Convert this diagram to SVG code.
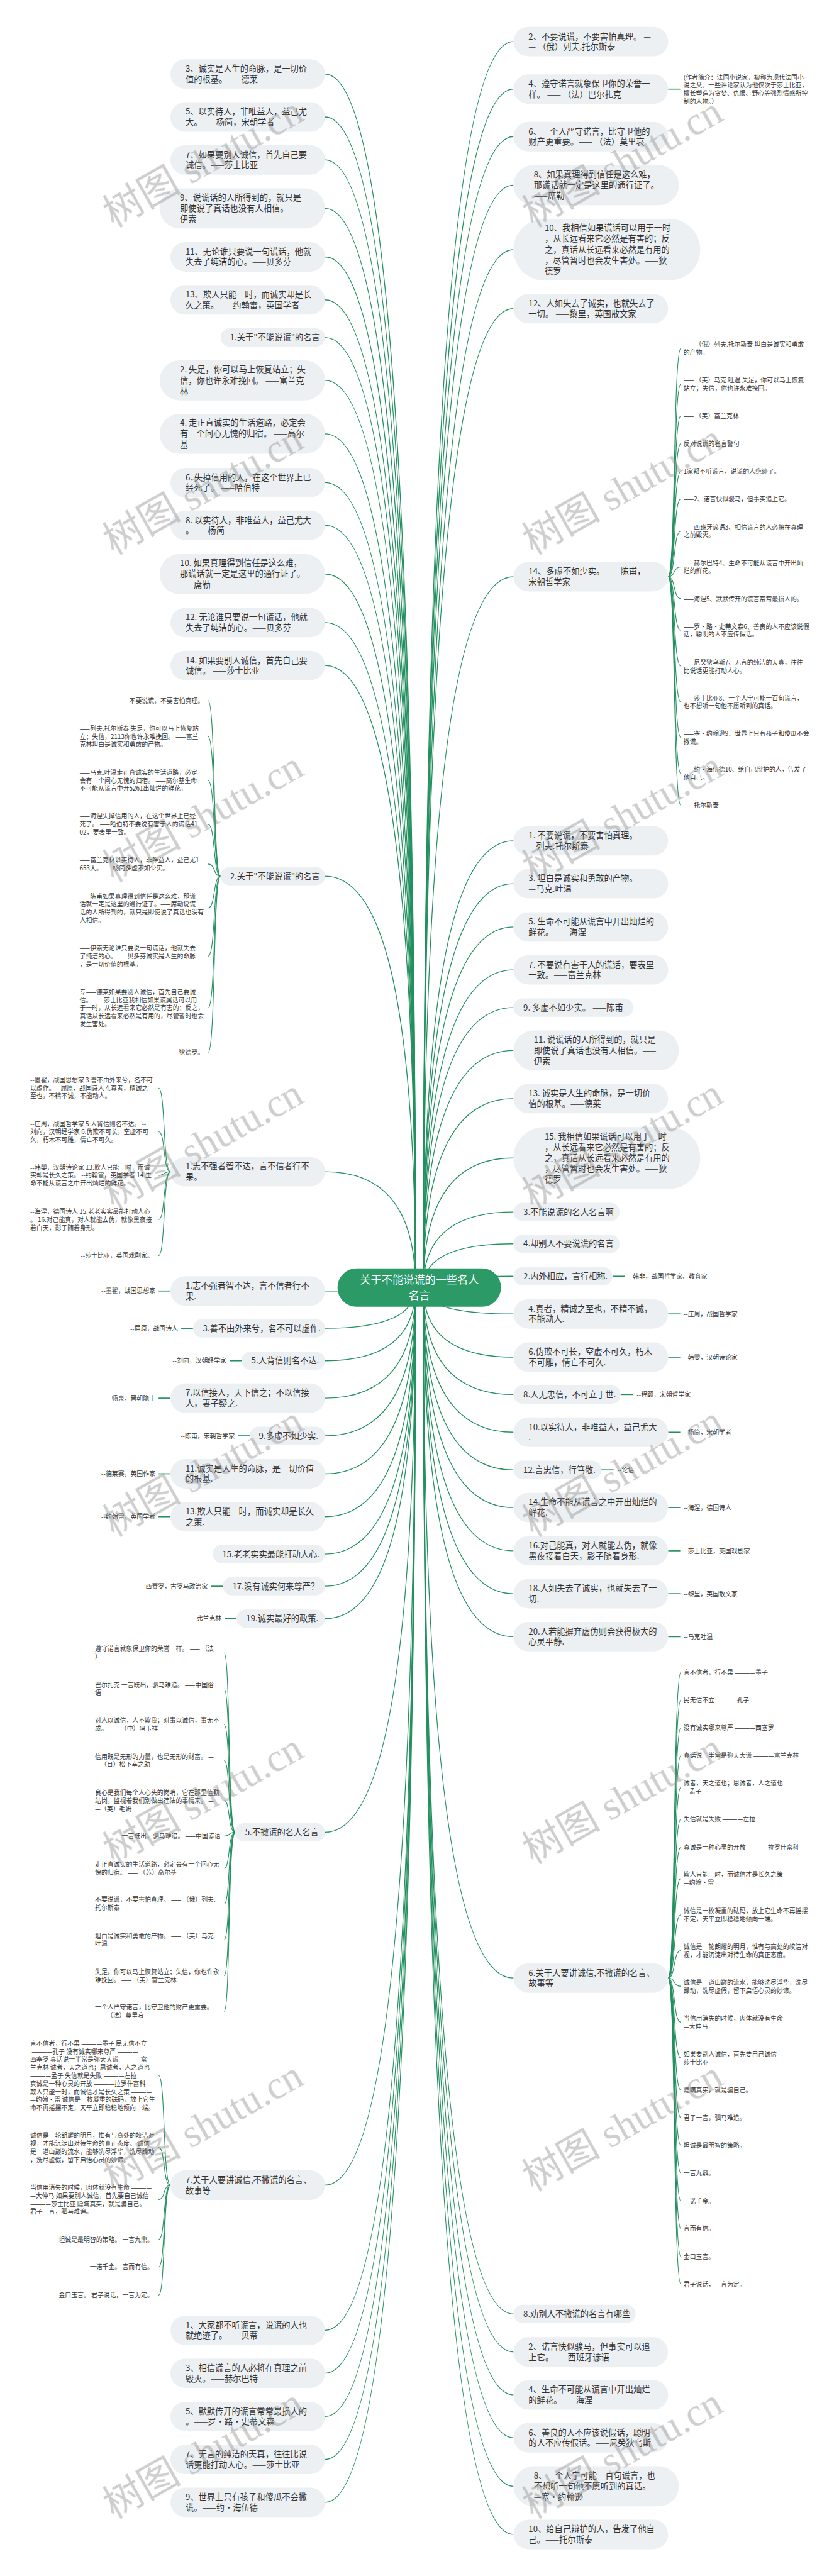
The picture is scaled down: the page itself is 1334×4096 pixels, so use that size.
<svg xmlns="http://www.w3.org/2000/svg" width="1334" height="4096" viewBox="0 0 1334 4096">
<defs>
<style>
.nb{fill:#edf0f3}
.nt{font-family:'Noto Sans CJK SC','Noto Sans',sans-serif;font-size:25.5px;fill:#333}
.lt{font-family:'Noto Sans CJK SC','Noto Sans',sans-serif;font-size:19px;fill:#333}
.le{text-anchor:end}
.cb{fill:#2b9a66}
.ct{font-family:'Noto Sans CJK SC','Noto Sans',sans-serif;font-size:33px;fill:#fff;text-anchor:middle}
.wm{font-family:'Liberation Serif','Noto Sans CJK SC',serif;font-size:120px;fill:#8a8a8a;opacity:0.42}
#connectors path{fill:none;stroke:#23905f;stroke-width:2.6}
#connectors .lf{stroke-width:2.2}
#connectors .st{stroke-width:3.2}
</style>
</defs>
<rect width="1334" height="4096" fill="#fff"/>
<g transform="scale(0.521)">
<g id="connectors">
<!-- left main -->
<path d="M1268,3929 Q1268,226 992,226"/>
<path d="M1268,3929 Q1268,357 992,357"/>
<path d="M1268,3929 Q1268,488 992,488"/>
<path d="M1268,3929 Q1268,636 992,636"/>
<path d="M1268,3929 Q1268,784 992,784"/>
<path d="M1268,3929 Q1268,915 992,915"/>
<path d="M1268,3929 Q1268,1030 992,1030"/>
<path d="M1268,3929 Q1268,1161 992,1161"/>
<path d="M1268,3929 Q1268,1324 992,1324"/>
<path d="M1268,3929 Q1268,1473 992,1473"/>
<path d="M1268,3929 Q1268,1603 992,1603"/>
<path d="M1268,3929 Q1268,1752 992,1752"/>
<path d="M1268,3929 Q1268,1900 992,1900"/>
<path d="M1268,3929 Q1268,2031 992,2031"/>
<path d="M1268,3929 Q1268,2674 992,2674"/>
<path d="M1268,3929 Q1268,3576 992,3576"/>
<path d="M1268,3929 Q1268,3940 992,3940"/>
<path d="M1268,3929 Q1268,4054 992,4054"/>
<path d="M1268,3929 Q1268,4153 992,4153"/>
<path d="M1268,3929 Q1268,4267 992,4267"/>
<path d="M1268,3929 Q1268,4382 992,4382"/>
<path d="M1268,3929 Q1268,4498 992,4498"/>
<path d="M1268,3929 Q1268,4629 992,4629"/>
<path d="M1268,3929 Q1268,4743 992,4743"/>
<path d="M1268,3929 Q1268,4841 992,4841"/>
<path d="M1268,3929 Q1268,4940 992,4940"/>
<path d="M1268,3929 Q1268,5592 992,5592"/>
<path d="M1268,3929 Q1268,6669 992,6669"/>
<path d="M1268,3929 Q1268,7112 992,7112"/>
<path d="M1268,3929 Q1268,7243 992,7243"/>
<path d="M1268,3929 Q1268,7375 992,7375"/>
<path d="M1268,3929 Q1268,7506 992,7506"/>
<path d="M1268,3929 Q1268,7637 992,7637"/>
<!-- right main -->
<path d="M1292,3929 Q1292,127 1567,127"/>
<path d="M1292,3929 Q1292,272 1567,272"/>
<path d="M1292,3929 Q1292,417 1567,417"/>
<path d="M1292,3929 Q1292,565 1567,565"/>
<path d="M1292,3929 Q1292,762 1567,762"/>
<path d="M1292,3929 Q1292,942 1567,942"/>
<path d="M1292,3929 Q1292,1760 1567,1760"/>
<path d="M1292,3929 Q1292,2566 1567,2566"/>
<path d="M1292,3929 Q1292,2697 1567,2697"/>
<path d="M1292,3929 Q1292,2829 1567,2829"/>
<path d="M1292,3929 Q1292,2960 1567,2960"/>
<path d="M1292,3929 Q1292,3075 1567,3075"/>
<path d="M1292,3929 Q1292,3206 1567,3206"/>
<path d="M1292,3929 Q1292,3353 1567,3353"/>
<path d="M1292,3929 Q1292,3534 1567,3534"/>
<path d="M1292,3929 Q1292,3699 1567,3699"/>
<path d="M1292,3929 Q1292,3796 1567,3796"/>
<path d="M1292,3929 Q1292,3895 1567,3895"/>
<path d="M1292,3929 Q1292,4010 1567,4010"/>
<path d="M1292,3929 Q1292,4142 1567,4142"/>
<path d="M1292,3929 Q1292,4256 1567,4256"/>
<path d="M1292,3929 Q1292,4371 1567,4371"/>
<path d="M1292,3929 Q1292,4486 1567,4486"/>
<path d="M1292,3929 Q1292,4601 1567,4601"/>
<path d="M1292,3929 Q1292,4733 1567,4733"/>
<path d="M1292,3929 Q1292,4864 1567,4864"/>
<path d="M1292,3929 Q1292,4995 1567,4995"/>
<path d="M1292,3929 Q1292,6037 1567,6037"/>
<path d="M1292,3929 Q1292,7062 1567,7062"/>
<path d="M1292,3929 Q1292,7178 1567,7178"/>
<path d="M1292,3929 Q1292,7309 1567,7309"/>
<path d="M1292,3929 Q1292,7440 1567,7440"/>
<path d="M1292,3929 Q1292,7588 1567,7588"/>
<path d="M1292,3929 Q1292,7735 1567,7735"/>
<!-- single leaf stubs -->
<path class="st" d="M2039,272 H2076"/>
<path class="st" d="M484,3940 H520"/>
<path class="st" d="M553,4054 H589"/>
<path class="st" d="M701,4153 H737"/>
<path class="st" d="M484,4267 H520"/>
<path class="st" d="M726,4382 H762"/>
<path class="st" d="M484,4498 H520"/>
<path class="st" d="M484,4629 H520"/>
<path class="st" d="M644,4841 H680"/>
<path class="st" d="M686,4940 H722"/>
<path class="st" d="M1869,3895 H1907"/>
<path class="st" d="M2039,4010 H2076"/>
<path class="st" d="M2039,4142 H2076"/>
<path class="st" d="M1894,4256 H1932"/>
<path class="st" d="M2039,4371 H2076"/>
<path class="st" d="M1835,4486 H1873"/>
<path class="st" d="M2039,4601 H2076"/>
<path class="st" d="M2039,4733 H2076"/>
<path class="st" d="M2039,4864 H2076"/>
<path class="st" d="M2039,4995 H2076"/>
<!-- bracket leaves R7 -->
<path class="lf" d="M2039,1760 C2062,1760 2054,1063 2078,1063"/>
<path class="lf" d="M2039,1760 C2062,1760 2054,1172 2078,1172"/>
<path class="lf" d="M2039,1760 C2062,1760 2054,1269 2078,1269"/>
<path class="lf" d="M2039,1760 C2062,1760 2054,1354 2078,1354"/>
<path class="lf" d="M2039,1760 C2062,1760 2054,1439 2078,1439"/>
<path class="lf" d="M2039,1760 C2062,1760 2054,1523 2078,1523"/>
<path class="lf" d="M2039,1760 C2062,1760 2054,1621 2078,1621"/>
<path class="lf" d="M2039,1760 C2062,1760 2054,1730 2078,1730"/>
<path class="lf" d="M2039,1760 C2062,1760 2054,1827 2078,1827"/>
<path class="lf" d="M2039,1760 C2062,1760 2054,1924 2078,1924"/>
<path class="lf" d="M2039,1760 C2062,1760 2054,2033 2078,2033"/>
<path class="lf" d="M2039,1760 C2062,1760 2054,2143 2078,2143"/>
<path class="lf" d="M2039,1760 C2062,1760 2054,2251 2078,2251"/>
<path class="lf" d="M2039,1760 C2062,1760 2054,2361 2078,2361"/>
<path class="lf" d="M2039,1760 C2062,1760 2054,2458 2078,2458"/>
<!-- bracket leaves R28 -->
<path class="lf" d="M2039,6037 C2062,6037 2054,5104 2078,5104"/>
<path class="lf" d="M2039,6037 C2062,6037 2054,5188 2078,5188"/>
<path class="lf" d="M2039,6037 C2062,6037 2054,5273 2078,5273"/>
<path class="lf" d="M2039,6037 C2062,6037 2054,5358 2078,5358"/>
<path class="lf" d="M2039,6037 C2062,6037 2054,5455 2078,5455"/>
<path class="lf" d="M2039,6037 C2062,6037 2054,5552 2078,5552"/>
<path class="lf" d="M2039,6037 C2062,6037 2054,5638 2078,5638"/>
<path class="lf" d="M2039,6037 C2062,6037 2054,5733 2078,5733"/>
<path class="lf" d="M2039,6037 C2062,6037 2054,5844 2078,5844"/>
<path class="lf" d="M2039,6037 C2062,6037 2054,5953 2078,5953"/>
<path class="lf" d="M2039,6037 C2062,6037 2054,6062 2078,6062"/>
<path class="lf" d="M2039,6037 C2062,6037 2054,6172 2078,6172"/>
<path class="lf" d="M2039,6037 C2062,6037 2054,6281 2078,6281"/>
<path class="lf" d="M2039,6037 C2062,6037 2054,6379 2078,6379"/>
<path class="lf" d="M2039,6037 C2062,6037 2054,6463 2078,6463"/>
<path class="lf" d="M2039,6037 C2062,6037 2054,6547 2078,6547"/>
<path class="lf" d="M2039,6037 C2062,6037 2054,6632 2078,6632"/>
<path class="lf" d="M2039,6037 C2062,6037 2054,6718 2078,6718"/>
<path class="lf" d="M2039,6037 C2062,6037 2054,6802 2078,6802"/>
<path class="lf" d="M2039,6037 C2062,6037 2054,6887 2078,6887"/>
<path class="lf" d="M2039,6037 C2062,6037 2054,6971 2078,6971"/>
<!-- bracket leaves L15 -->
<path class="lf" d="M673,2674 C650,2674 658,2138 635,2138"/>
<path class="lf" d="M673,2674 C650,2674 658,2248 635,2248"/>
<path class="lf" d="M673,2674 C650,2674 658,2382 635,2382"/>
<path class="lf" d="M673,2674 C650,2674 658,2516 635,2516"/>
<path class="lf" d="M673,2674 C650,2674 658,2637 635,2637"/>
<path class="lf" d="M673,2674 C650,2674 658,2771 635,2771"/>
<path class="lf" d="M673,2674 C650,2674 658,2918 635,2918"/>
<path class="lf" d="M673,2674 C650,2674 658,3076 635,3076"/>
<path class="lf" d="M673,2674 C650,2674 658,3212 635,3212"/>
<!-- bracket leaves L16 -->
<path class="lf" d="M520,3576 C497,3576 505,3321 484,3321"/>
<path class="lf" d="M520,3576 C497,3576 505,3454 484,3454"/>
<path class="lf" d="M520,3576 C497,3576 505,3587 484,3587"/>
<path class="lf" d="M520,3576 C497,3576 505,3722 484,3722"/>
<path class="lf" d="M520,3576 C497,3576 505,3832 484,3832"/>
<!-- bracket leaves L27 -->
<path class="lf" d="M718,5592 C695,5592 703,5045 684,5045"/>
<path class="lf" d="M718,5592 C695,5592 703,5154 684,5154"/>
<path class="lf" d="M718,5592 C695,5592 703,5264 684,5264"/>
<path class="lf" d="M718,5592 C695,5592 703,5373 684,5373"/>
<path class="lf" d="M718,5592 C695,5592 703,5495 684,5495"/>
<path class="lf" d="M718,5592 C695,5592 703,5604 684,5604"/>
<path class="lf" d="M718,5592 C695,5592 703,5702 684,5702"/>
<path class="lf" d="M718,5592 C695,5592 703,5811 684,5811"/>
<path class="lf" d="M718,5592 C695,5592 703,5920 684,5920"/>
<path class="lf" d="M718,5592 C695,5592 703,6030 684,6030"/>
<path class="lf" d="M718,5592 C695,5592 703,6139 684,6139"/>
<!-- bracket leaves L28 -->
<path class="lf" d="M520,6669 C497,6669 505,6334 484,6334"/>
<path class="lf" d="M520,6669 C497,6669 505,6554 484,6554"/>
<path class="lf" d="M520,6669 C497,6669 505,6713 484,6713"/>
<path class="lf" d="M520,6669 C497,6669 505,6835 484,6835"/>
<path class="lf" d="M520,6669 C497,6669 505,6919 484,6919"/>
<path class="lf" d="M520,6669 C497,6669 505,7005 484,7005"/>
</g>

<g id="center"><rect class="cb" x="1030" y="3871" width="499" height="117" rx="58"/><text class="ct"><tspan x="1280" y="3918">关于不能说谎的一些名人</tspan><tspan x="1280" y="3965">名言</tspan></text></g>

<!-- LEFT NODES -->
<g id="L1"><rect class="nb" x="520" y="181" width="472" height="90" rx="45"/><text class="nt"><tspan x="566" y="219">3、诚实是人生的命脉，是一切价</tspan><tspan x="566" y="251">值的根基。——德莱</tspan></text></g>
<g id="L2"><rect class="nb" x="520" y="312" width="472" height="90" rx="45"/><text class="nt"><tspan x="566" y="350">5、以实待人，非唯益人，益己尤</tspan><tspan x="566" y="382">大。——杨简，宋朝学者</tspan></text></g>
<g id="L3"><rect class="nb" x="520" y="443" width="472" height="90" rx="45"/><text class="nt"><tspan x="566" y="481">7、如果要别人诚信，首先自己要</tspan><tspan x="566" y="513">诚信。——莎士比亚</tspan></text></g>
<g id="L4"><rect class="nb" x="487" y="575" width="505" height="122" rx="61"/><text class="nt"><tspan x="549" y="612">9、说谎话的人所得到的，就只是</tspan><tspan x="549" y="645">即使说了真话也没有人相信。——</tspan><tspan x="549" y="678">伊索</tspan></text></g>
<g id="L5"><rect class="nb" x="520" y="739" width="472" height="90" rx="45"/><text class="nt"><tspan x="566" y="777">11、无论谁只要说一句谎话，他就</tspan><tspan x="566" y="809">失去了纯洁的心。——贝多芬</tspan></text></g>
<g id="L6"><rect class="nb" x="520" y="870" width="472" height="90" rx="45"/><text class="nt"><tspan x="566" y="908">13、欺人只能一时，而诚实却是长</tspan><tspan x="566" y="940">久之策。——约翰雷，英国学者</tspan></text></g>
<g id="L7"><rect class="nb" x="673" y="1002" width="319" height="56" rx="28"/><text class="nt" x="702" y="1039">1.关于"不能说谎"的名言</text></g>
<g id="L8"><rect class="nb" x="487" y="1100" width="505" height="122" rx="61"/><text class="nt"><tspan x="549" y="1137">2. 失足，你可以马上恢复站立；失</tspan><tspan x="549" y="1170">信，你也许永难挽回。 ——富兰克</tspan><tspan x="549" y="1203">林</tspan></text></g>
<g id="L9"><rect class="nb" x="487" y="1263" width="505" height="122" rx="61"/><text class="nt"><tspan x="549" y="1300">4. 走正直诚实的生活道路，必定会</tspan><tspan x="549" y="1333">有一个问心无愧的归宿。 ——高尔</tspan><tspan x="549" y="1366">基</tspan></text></g>
<g id="L10"><rect class="nb" x="520" y="1428" width="472" height="90" rx="45"/><text class="nt"><tspan x="566" y="1466">6. 失掉信用的人，在这个世界上已</tspan><tspan x="566" y="1498">经死了。 ——哈伯特</tspan></text></g>
<g id="L11"><rect class="nb" x="520" y="1558" width="472" height="90" rx="45"/><text class="nt"><tspan x="566" y="1596">8. 以实待人，非唯益人，益己尤大</tspan><tspan x="566" y="1628">。——杨简</tspan></text></g>
<g id="L12"><rect class="nb" x="487" y="1691" width="505" height="122" rx="61"/><text class="nt"><tspan x="549" y="1728">10. 如果真理得到信任是这么难，</tspan><tspan x="549" y="1761">那谎话就一定是这里的通行证了。</tspan><tspan x="549" y="1794">——席勒</tspan></text></g>
<g id="L13"><rect class="nb" x="520" y="1855" width="472" height="90" rx="45"/><text class="nt"><tspan x="566" y="1893">12. 无论谁只要说一句谎话，他就</tspan><tspan x="566" y="1925">失去了纯洁的心。——贝多芬</tspan></text></g>
<g id="L14"><rect class="nb" x="520" y="1986" width="472" height="90" rx="45"/><text class="nt"><tspan x="566" y="2024">14. 如果要别人诚信，首先自己要</tspan><tspan x="566" y="2056">诚信。 ——莎士比亚</tspan></text></g>
<g id="L15"><rect class="nb" x="673" y="2646" width="319" height="56" rx="28"/><text class="nt" x="702" y="2683">2.关于"不能说谎"的名言</text></g>
<g id="L15-leaves" class="lt">
<text class="le" x="622" y="2145">不要说谎，不要害怕真理。</text>
<text><tspan x="243" y="2230">——列夫.托尔斯泰 失足，你可以马上恢复站</tspan><tspan x="243" y="2255">立；失信，2113你也许永难挽回。 ——富兰</tspan><tspan x="243" y="2279">克林坦白是诚实和勇敢的产物。</tspan></text>
<text><tspan x="243" y="2364">——马克.吐温走正直诚实的生活道路，必定</tspan><tspan x="243" y="2389">会有一个问心无愧的归宿。 ——高尔基生命</tspan><tspan x="243" y="2413">不可能从谎言中开5261出灿烂的鲜花。</tspan></text>
<text><tspan x="243" y="2498">——海涅失掉信用的人，在这个世界上已经</tspan><tspan x="243" y="2523">死了。 ——哈伯特不要说有害于人的谎话41</tspan><tspan x="243" y="2547">02，要表里一致。</tspan></text>
<text><tspan x="243" y="2632">——富兰克林以实待人，非唯益人，益己尤1</tspan><tspan x="243" y="2657">653大。——杨简多虚不如少实。</tspan></text>
<text><tspan x="243" y="2742">——陈甫如果真理得到信任是这么难，那谎</tspan><tspan x="243" y="2766">话就一定是这里的通行证了。——席勒说谎</tspan><tspan x="243" y="2791">话的人所得到的，就只是即使说了真话也没有</tspan><tspan x="243" y="2815">人相信。</tspan></text>
<text><tspan x="243" y="2901">——伊索无论谁只要说一句谎话，他就失去</tspan><tspan x="243" y="2925">了纯洁的心。——贝多芬诚实是人生的命脉</tspan><tspan x="243" y="2950">，是一切价值的根基。</tspan></text>
<text><tspan x="243" y="3035">专——德莱如果要别人诚信，首先自己要诚</tspan><tspan x="243" y="3059">信。 ——莎士比亚我相信如果谎属话可以用</tspan><tspan x="243" y="3083">于一时，从长远看来它必然是有害的；反之，</tspan><tspan x="243" y="3108">真话从长远看来必然是有用的，尽管暂时也会</tspan><tspan x="243" y="3132">发生害处。</tspan></text>
<text class="le" x="622" y="3219">——狄德罗。</text>
</g>
<g id="L16"><rect class="nb" x="520" y="3531" width="472" height="90" rx="45"/><text class="nt"><tspan x="566" y="3569">1.志不强者智不达，言不信者行不</tspan><tspan x="566" y="3601">果。</tspan></text></g>
<g id="L16-leaves" class="lt">
<text><tspan x="92" y="3303">--墨翟，战国思想家 3.善不由外来兮，名不可</tspan><tspan x="92" y="3328">以虚作。 --屈原，战国诗人 4.真者，精诚之</tspan><tspan x="92" y="3352">至也，不精不诚，不能动人。</tspan></text>
<text><tspan x="92" y="3437">--庄周，战国哲学家 5.人背信则名不达。 --</tspan><tspan x="92" y="3461">刘向，汉朝经学家 6.伪欺不可长，空虚不可</tspan><tspan x="92" y="3486">久，朽木不可雕，情亡不可久。</tspan></text>
<text><tspan x="92" y="3570">--韩婴，汉朝诗论家 13.欺人只能一时，而诚</tspan><tspan x="92" y="3594">实却是长久之策。 --约翰雷，英国学者 14.生</tspan><tspan x="92" y="3619">命不能从谎言之中开出灿烂的鲜花。</tspan></text>
<text><tspan x="92" y="3705">--海涅，德国诗人 15.老老实实最能打动人心</tspan><tspan x="92" y="3729">。 16.对己能真，对人就能去伪，就像黑夜接</tspan><tspan x="92" y="3754">着白天，影子随着身形。</tspan></text>
<text class="le" x="468" y="3839">--莎士比亚，英国戏剧家。</text>
</g>
<g id="L17"><rect class="nb" x="520" y="3895" width="472" height="90" rx="45"/><text class="nt"><tspan x="566" y="3933">1.志不强者智不达，言不信者行不</tspan><tspan x="566" y="3965">果.</tspan></text><text class="lt le" x="474" y="3947">--墨翟，战国思想家</text></g>
<g id="L18"><rect class="nb" x="589" y="4026" width="403" height="56" rx="28"/><text class="nt" x="619" y="4063">3.善不由外来兮，名不可以虚作.</text><text class="lt le" x="543" y="4061">--屈原，战国诗人</text></g>
<g id="L19"><rect class="nb" x="737" y="4125" width="255" height="56" rx="28"/><text class="nt" x="767" y="4162">5.人背信则名不达.</text><text class="lt le" x="691" y="4160">--刘向，汉朝经学家</text></g>
<g id="L20"><rect class="nb" x="520" y="4222" width="472" height="90" rx="45"/><text class="nt"><tspan x="566" y="4260">7.以信接人，天下信之；不以信接</tspan><tspan x="566" y="4292">人，妻子疑之.</tspan></text><text class="lt le" x="474" y="4274">--畅泉，晋朝隐士</text></g>
<g id="L21"><rect class="nb" x="762" y="4354" width="230" height="56" rx="28"/><text class="nt" x="790" y="4391">9.多虚不如少实.</text><text class="lt le" x="716" y="4389">--陈甫，宋朝哲学家</text></g>
<g id="L22"><rect class="nb" x="520" y="4453" width="472" height="90" rx="45"/><text class="nt"><tspan x="566" y="4491">11.诚实是人生的命脉，是一切价值</tspan><tspan x="566" y="4523">的根基.</tspan></text><text class="lt le" x="474" y="4505">--德莱赛，英国作家</text></g>
<g id="L23"><rect class="nb" x="520" y="4584" width="472" height="90" rx="45"/><text class="nt"><tspan x="566" y="4622">13.欺人只能一时，而诚实却是长久</tspan><tspan x="566" y="4654">之策.</tspan></text><text class="lt le" x="474" y="4636">--约翰雷，英国学者</text></g>
<g id="L24"><rect class="nb" x="649" y="4715" width="343" height="56" rx="28"/><text class="nt" x="678" y="4752">15.老老实实最能打动人心.</text></g>
<g id="L25"><rect class="nb" x="680" y="4813" width="312" height="56" rx="28"/><text class="nt" x="709" y="4850">17.没有诚实何来尊严？</text><text class="lt le" x="634" y="4848">--西赛罗，古罗马政治家</text></g>
<g id="L26"><rect class="nb" x="722" y="4912" width="270" height="56" rx="28"/><text class="nt" x="751" y="4949">19.诚实最好的政策.</text><text class="lt le" x="676" y="4947">--弗兰克林</text></g>
<g id="L27"><rect class="nb" x="718" y="5564" width="274" height="56" rx="28"/><text class="nt" x="748" y="5601">5.不撒谎的名人名言</text></g>
<g id="L27-leaves" class="lt">
<text><tspan x="290" y="5039">遵守诺言就象保卫你的荣誉一样。 —— （法</tspan><tspan x="290" y="5064">）</tspan></text>
<text><tspan x="290" y="5149">巴尔扎克 一言既出，驷马难追。 ——中国俗</tspan><tspan x="290" y="5173">语</tspan></text>
<text><tspan x="290" y="5258">对人以诚信，人不欺我；对事以诚信，事无不</tspan><tspan x="290" y="5283">成。 —— （中）冯玉祥</tspan></text>
<text><tspan x="290" y="5368">信用既是无形的力量，也是无形的财富。 —</tspan><tspan x="290" y="5392">—（日）松下幸之助</tspan></text>
<text><tspan x="290" y="5477">良心是我们每个人心头的岗哨，它在那里值勤</tspan><tspan x="290" y="5502">站岗，监视着我们别做出违法的事情来。 —</tspan><tspan x="290" y="5527">—（英）毛姆</tspan></text>
<text class="le" x="673" y="5611">一言既出，驷马难追。 ——中国谚语</text>
<text><tspan x="290" y="5696">走正直诚实的生活道路，必定会有一个问心无</tspan><tspan x="290" y="5721">愧的归宿。 —— （苏）高尔基</tspan></text>
<text><tspan x="290" y="5805">不要说谎，不要害怕真理。 —— （俄）列夫.</tspan><tspan x="290" y="5830">托尔斯泰</tspan></text>
<text><tspan x="290" y="5915">坦白是诚实和勇敢的产物。 —— （美）马克.</tspan><tspan x="290" y="5939">吐温</tspan></text>
<text><tspan x="290" y="6024">失足，你可以马上恢复站立；失信，你也许永</tspan><tspan x="290" y="6049">难挽回。 —— （美）富兰克林</tspan></text>
<text><tspan x="290" y="6133">一个人严守诺言，比守卫他的财产更重要。</tspan><tspan x="290" y="6158">—— （法）莫里哀</tspan></text>
</g>
<g id="L28"><rect class="nb" x="520" y="6624" width="472" height="90" rx="45"/><text class="nt"><tspan x="566" y="6662">7.关于人要讲诚信,不撒谎的名言、</tspan><tspan x="566" y="6694">故事等</tspan></text></g>
<g id="L28-leaves" class="lt">
<text><tspan x="92" y="6243">言不信者，行不果 ————墨子 民无信不立</tspan><tspan x="92" y="6268"> ————孔子 没有诚实哪来尊严 ————</tspan><tspan x="92" y="6292">西塞罗 真话说一半常是弥天大谎 ————富</tspan><tspan x="92" y="6316">兰克林 诚者，天之道也；思诚者，人之道也</tspan><tspan x="92" y="6341">————孟子 失信就是失败 ————左拉</tspan><tspan x="92" y="6366">真诚是一种心灵的开放 ————拉罗什富科</tspan><tspan x="92" y="6391">欺人只能一时，而诚信才是长久之策 ————</tspan><tspan x="92" y="6415">—约翰·雷 诚信是一枚凝重的砝码，放上它生</tspan><tspan x="92" y="6439">命不再摇摆不定，天平立即稳稳地倾向一端。</tspan></text>
<text><tspan x="92" y="6524">诚信是一轮朗耀的明月，惟有与高处的皎洁对</tspan><tspan x="92" y="6548">视，才能沉淀出对待生命的真正态度。 诚信</tspan><tspan x="92" y="6573">是一道山巅的流水，能够洗尽浮华，洗尽躁动</tspan><tspan x="92" y="6598">，洗尽虚假，留下启悟心灵的妙谛。</tspan></text>
<text><tspan x="92" y="6683">当信用消失的时候，肉体就没有生命 ————</tspan><tspan x="92" y="6708">—大仲马 如果要别人诚信，首先要自己诚信</tspan><tspan x="92" y="6733">————莎士比亚 隐瞒真实，就是骗自己。</tspan><tspan x="92" y="6757">君子一言，驷马难追。</tspan></text>
<text class="le" x="468" y="6842">坦诚是最明智的策略。 一言九鼎。</text>
<text class="le" x="468" y="6926">一诺千金。 言而有信。</text>
<text class="le" x="468" y="7012">金口玉言。 君子说话，一言为定。</text>
</g>
<g id="L29"><rect class="nb" x="520" y="7067" width="472" height="90" rx="45"/><text class="nt"><tspan x="566" y="7105">1、大家都不听谎言，说谎的人也</tspan><tspan x="566" y="7137">就绝迹了。——贝蒂</tspan></text></g>
<g id="L30"><rect class="nb" x="520" y="7198" width="472" height="90" rx="45"/><text class="nt"><tspan x="566" y="7236">3、相信谎言的人必将在真理之前</tspan><tspan x="566" y="7268">毁灭。——赫尔巴特</tspan></text></g>
<g id="L31"><rect class="nb" x="520" y="7330" width="472" height="90" rx="45"/><text class="nt"><tspan x="566" y="7368">5、默默传开的谎言常常最损人的</tspan><tspan x="566" y="7400">。——罗·路·史蒂文森</tspan></text></g>
<g id="L32"><rect class="nb" x="520" y="7461" width="472" height="90" rx="45"/><text class="nt"><tspan x="566" y="7499">7、无言的纯洁的天真，往往比说</tspan><tspan x="566" y="7531">话更能打动人心。——莎士比亚</tspan></text></g>
<g id="L33"><rect class="nb" x="520" y="7592" width="472" height="90" rx="45"/><text class="nt"><tspan x="566" y="7630">9、世界上只有孩子和傻瓜不会撒</tspan><tspan x="566" y="7662">谎。——约·海伍德</tspan></text></g>

<!-- RIGHT NODES -->
<g id="R1"><rect class="nb" x="1567" y="82" width="472" height="90" rx="45"/><text class="nt"><tspan x="1613" y="120">2、不要说谎，不要害怕真理。 —</tspan><tspan x="1613" y="152">— （俄）列夫.托尔斯泰</tspan></text></g>
<g id="R2"><rect class="nb" x="1567" y="227" width="472" height="90" rx="45"/><text class="nt"><tspan x="1613" y="265">4、遵守诺言就象保卫你的荣誉一</tspan><tspan x="1613" y="297">样。 —— （法）巴尔扎克</tspan></text><text class="lt"><tspan x="2086" y="243">(作者简介：法国小说家，被称为现代法国小</tspan><tspan x="2086" y="267">说之父。一些评论家认为他仅次于莎士比亚，</tspan><tspan x="2086" y="292">擅长塑造为贪婪、仇恨、野心等强烈情感所控</tspan><tspan x="2086" y="316">制的人物。）</tspan></text></g>
<g id="R3"><rect class="nb" x="1567" y="372" width="472" height="90" rx="45"/><text class="nt"><tspan x="1613" y="410">6、一个人严守诺言，比守卫他的</tspan><tspan x="1613" y="442">财产更重要。—— （法）莫里哀</tspan></text></g>
<g id="R4"><rect class="nb" x="1567" y="504" width="505" height="122" rx="61"/><text class="nt"><tspan x="1629" y="541">8、如果真理得到信任是这么难，</tspan><tspan x="1629" y="574">那谎话就一定是这里的通行证了。</tspan><tspan x="1629" y="607">——席勒</tspan></text></g>
<g id="R5"><rect class="nb" x="1567" y="668" width="570" height="188" rx="94"/><text class="nt"><tspan x="1662" y="705">10、我相信如果谎话可以用于一时</tspan><tspan x="1662" y="738">，从长远看来它必然是有害的；反</tspan><tspan x="1662" y="771">之，真话从长远看来必然是有用的</tspan><tspan x="1662" y="804">，尽管暂时也会发生害处。——狄</tspan><tspan x="1662" y="837">德罗</tspan></text></g>
<g id="R6"><rect class="nb" x="1567" y="897" width="472" height="90" rx="45"/><text class="nt"><tspan x="1613" y="935">12、人如失去了诚实，也就失去了</tspan><tspan x="1613" y="967">一切。 ——黎里，英国散文家</tspan></text></g>
<g id="R7"><rect class="nb" x="1567" y="1715" width="472" height="90" rx="45"/><text class="nt"><tspan x="1613" y="1753">14、多虚不如少实。 ——陈甫，</tspan><tspan x="1613" y="1785">宋朝哲学家</tspan></text></g>
<g id="R7-leaves" class="lt">
<text><tspan x="2086" y="1058">—— （俄）列夫.托尔斯泰 坦白是诚实和勇敢</tspan><tspan x="2086" y="1082">的产物。</tspan></text>
<text><tspan x="2086" y="1167">—— （美）马克.吐温 失足，你可以马上恢复</tspan><tspan x="2086" y="1191">站立；失信，你也许永难挽回。</tspan></text>
<text x="2086" y="1276">—— （美）富兰克林</text>
<text x="2086" y="1361">反对说谎的名言警句</text>
<text x="2086" y="1446">1家都不听谎言，说谎的人绝迹了。</text>
<text x="2086" y="1530">——2、诺言快似骏马，但事实追上它。</text>
<text><tspan x="2086" y="1616">——西班牙谚语3、相信谎言的人必将在真理</tspan><tspan x="2086" y="1640">之前毁灭。</tspan></text>
<text><tspan x="2086" y="1725">——赫尔巴特4、生命不可能从谎言中开出灿</tspan><tspan x="2086" y="1749">烂的鲜花。</tspan></text>
<text x="2086" y="1834">——海涅5、默默传开的谎言常常最损人的。</text>
<text><tspan x="2086" y="1919">——罗·路·史蒂文森6、善良的人不应该说假</tspan><tspan x="2086" y="1943">话，聪明的人不应传假话。</tspan></text>
<text><tspan x="2086" y="2028">——尼癸狄乌斯7、无言的纯洁的天真，往往</tspan><tspan x="2086" y="2053">比说话更能打动人心。</tspan></text>
<text><tspan x="2086" y="2138">——莎士比亚8、一个人宁可能一百句谎言，</tspan><tspan x="2086" y="2162">也不想听一句他不愿听到的真话。</tspan></text>
<text><tspan x="2086" y="2246">——塞·约翰逊9、世界上只有孩子和傻瓜不会</tspan><tspan x="2086" y="2271">撒谎。</tspan></text>
<text><tspan x="2086" y="2356">——约·海伍德10、给自己辩护的人，告发了</tspan><tspan x="2086" y="2380">他自己。</tspan></text>
<text x="2086" y="2465">——托尔斯泰</text>
</g>
<g id="R8"><rect class="nb" x="1567" y="2521" width="472" height="90" rx="45"/><text class="nt"><tspan x="1613" y="2559">1. 不要说谎，不要害怕真理。 —</tspan><tspan x="1613" y="2591">—列夫.托尔斯泰</tspan></text></g>
<g id="R9"><rect class="nb" x="1567" y="2652" width="472" height="90" rx="45"/><text class="nt"><tspan x="1613" y="2690">3. 坦白是诚实和勇敢的产物。 —</tspan><tspan x="1613" y="2722">—马克.吐温</tspan></text></g>
<g id="R10"><rect class="nb" x="1567" y="2784" width="472" height="90" rx="45"/><text class="nt"><tspan x="1613" y="2822">5. 生命不可能从谎言中开出灿烂的</tspan><tspan x="1613" y="2854">鲜花。 ——海涅</tspan></text></g>
<g id="R11"><rect class="nb" x="1567" y="2915" width="472" height="90" rx="45"/><text class="nt"><tspan x="1613" y="2953">7. 不要说有害于人的谎话，要表里</tspan><tspan x="1613" y="2985">一致。——富兰克林</tspan></text></g>
<g id="R12"><rect class="nb" x="1567" y="3047" width="366" height="56" rx="28"/><text class="nt" x="1597" y="3084">9. 多虚不如少实。 ——陈甫</text></g>
<g id="R13"><rect class="nb" x="1567" y="3145" width="505" height="122" rx="61"/><text class="nt"><tspan x="1629" y="3182">11. 说谎话的人所得到的，就只是</tspan><tspan x="1629" y="3215">即使说了真话也没有人相信。——</tspan><tspan x="1629" y="3248">伊索</tspan></text></g>
<g id="R14"><rect class="nb" x="1567" y="3308" width="472" height="90" rx="45"/><text class="nt"><tspan x="1613" y="3346">13. 诚实是人生的命脉，是一切价</tspan><tspan x="1613" y="3378">值的根基。——德莱</tspan></text></g>
<g id="R15"><rect class="nb" x="1567" y="3440" width="570" height="188" rx="94"/><text class="nt"><tspan x="1662" y="3477">15. 我相信如果谎话可以用于一时</tspan><tspan x="1662" y="3510">，从长远看来它必然是有害的；反</tspan><tspan x="1662" y="3543">之，真话从长远看来必然是有用的</tspan><tspan x="1662" y="3576">，尽管暂时也会发生害处。——狄</tspan><tspan x="1662" y="3609">德罗</tspan></text></g>
<g id="R16"><rect class="nb" x="1567" y="3671" width="324" height="56" rx="28"/><text class="nt" x="1597" y="3708">3.不能说谎的名人名言啊</text></g>
<g id="R17"><rect class="nb" x="1567" y="3768" width="324" height="56" rx="28"/><text class="nt" x="1597" y="3805">4.却别人不要说谎的名言</text></g>
<g id="R18"><rect class="nb" x="1567" y="3867" width="302" height="56" rx="28"/><text class="nt" x="1597" y="3904">2.内外相应，言行相称.</text><text class="lt" x="1918" y="3902">--韩非，战国哲学家、教育家</text></g>
<g id="R19"><rect class="nb" x="1567" y="3965" width="472" height="90" rx="45"/><text class="nt"><tspan x="1613" y="4003">4.真者，精诚之至也，不精不诚，</tspan><tspan x="1613" y="4035">不能动人.</tspan></text><text class="lt" x="2086" y="4017">--庄周，战国哲学家</text></g>
<g id="R20"><rect class="nb" x="1567" y="4097" width="472" height="90" rx="45"/><text class="nt"><tspan x="1613" y="4135">6.伪欺不可长，空虚不可久，朽木</tspan><tspan x="1613" y="4167">不可雕，情亡不可久.</tspan></text><text class="lt" x="2086" y="4149">--韩婴，汉朝诗论家</text></g>
<g id="R21"><rect class="nb" x="1567" y="4228" width="327" height="56" rx="28"/><text class="nt" x="1597" y="4265">8.人无忠信，不可立于世.</text><text class="lt" x="1943" y="4263">--程颐，宋朝哲学家</text></g>
<g id="R22"><rect class="nb" x="1567" y="4326" width="472" height="90" rx="45"/><text class="nt"><tspan x="1613" y="4364">10.以实待人，非唯益人，益己尤大</tspan><tspan x="1613" y="4396">.</tspan></text><text class="lt" x="2086" y="4378">--杨简，宋朝学者</text></g>
<g id="R23"><rect class="nb" x="1567" y="4458" width="268" height="56" rx="28"/><text class="nt" x="1597" y="4495">12.言忠信，行笃敬.</text><text class="lt" x="1884" y="4493">--论语</text></g>
<g id="R24"><rect class="nb" x="1567" y="4556" width="472" height="90" rx="45"/><text class="nt"><tspan x="1613" y="4594">14.生命不能从谎言之中开出灿烂的</tspan><tspan x="1613" y="4626">鲜花.</tspan></text><text class="lt" x="2086" y="4608">--海涅，德国诗人</text></g>
<g id="R25"><rect class="nb" x="1567" y="4688" width="472" height="90" rx="45"/><text class="nt"><tspan x="1613" y="4726">16.对己能真，对人就能去伪，就像</tspan><tspan x="1613" y="4758">黑夜接着白天，影子随着身形.</tspan></text><text class="lt" x="2086" y="4740">--莎士比亚，英国戏剧家</text></g>
<g id="R26"><rect class="nb" x="1567" y="4819" width="472" height="90" rx="45"/><text class="nt"><tspan x="1613" y="4857">18.人如失去了诚实，也就失去了一</tspan><tspan x="1613" y="4889">切.</tspan></text><text class="lt" x="2086" y="4871">--黎里，英国散文家</text></g>
<g id="R27"><rect class="nb" x="1567" y="4950" width="472" height="90" rx="45"/><text class="nt"><tspan x="1613" y="4988">20.人若能摒弃虚伪则会获得极大的</tspan><tspan x="1613" y="5020">心灵平静.</tspan></text><text class="lt" x="2086" y="5002">--马克吐温</text></g>
<g id="R28"><rect class="nb" x="1567" y="5992" width="472" height="90" rx="45"/><text class="nt"><tspan x="1613" y="6030">6.关于人要讲诚信,不撒谎的名言、</tspan><tspan x="1613" y="6062">故事等</tspan></text></g>
<g id="R28-leaves" class="lt">
<text x="2086" y="5111">言不信者，行不果 ————墨子</text>
<text x="2086" y="5195">民无信不立 ————孔子</text>
<text x="2086" y="5280">没有诚实哪来尊严 ————西塞罗</text>
<text x="2086" y="5365">真话说一半常是弥天大谎 ————富兰克林</text>
<text><tspan x="2086" y="5450">诚者，天之道也；思诚者，人之道也 ————</tspan><tspan x="2086" y="5474">—孟子</tspan></text>
<text x="2086" y="5559">失信就是失败 ————左拉</text>
<text x="2086" y="5645">真诚是一种心灵的开放 ————拉罗什富科</text>
<text><tspan x="2086" y="5728">欺人只能一时，而诚信才是长久之策 ————</tspan><tspan x="2086" y="5753">—约翰·雷</tspan></text>
<text><tspan x="2086" y="5839">诚信是一枚凝重的砝码，放上它生命不再摇摆</tspan><tspan x="2086" y="5863">不定，天平立即稳稳地倾向一端。</tspan></text>
<text><tspan x="2086" y="5948">诚信是一轮朗耀的明月，惟有与高处的皎洁对</tspan><tspan x="2086" y="5973">视，才能沉淀出对待生命的真正态度。</tspan></text>
<text><tspan x="2086" y="6057">诚信是一道山巅的流水，能够洗尽浮华，洗尽</tspan><tspan x="2086" y="6082">躁动，洗尽虚假，留下启悟心灵的妙谛。</tspan></text>
<text><tspan x="2086" y="6167">当信用消失的时候，肉体就没有生命 ————</tspan><tspan x="2086" y="6192">—大仲马</tspan></text>
<text><tspan x="2086" y="6276">如果要别人诚信，首先要自己诚信 ————</tspan><tspan x="2086" y="6301">莎士比亚</tspan></text>
<text x="2086" y="6386">隐瞒真实，就是骗自己。</text>
<text x="2086" y="6470">君子一言，驷马难追。</text>
<text x="2086" y="6554">坦诚是最明智的策略。</text>
<text x="2086" y="6639">一言九鼎。</text>
<text x="2086" y="6725">一诺千金。</text>
<text x="2086" y="6809">言而有信。</text>
<text x="2086" y="6894">金口玉言。</text>
<text x="2086" y="6978">君子说话，一言为定。</text>
</g>
<g id="R29"><rect class="nb" x="1567" y="7034" width="373" height="56" rx="28"/><text class="nt" x="1597" y="7071">8.劝别人不撒谎的名言有哪些</text></g>
<g id="R30"><rect class="nb" x="1567" y="7133" width="472" height="90" rx="45"/><text class="nt"><tspan x="1613" y="7171">2、诺言快似骏马，但事实可以追</tspan><tspan x="1613" y="7203">上它。——西班牙谚语</tspan></text></g>
<g id="R31"><rect class="nb" x="1567" y="7264" width="472" height="90" rx="45"/><text class="nt"><tspan x="1613" y="7302">4、生命不可能从谎言中开出灿烂</tspan><tspan x="1613" y="7334">的鲜花。——海涅</tspan></text></g>
<g id="R32"><rect class="nb" x="1567" y="7395" width="472" height="90" rx="45"/><text class="nt"><tspan x="1613" y="7433">6、善良的人不应该说假话，聪明</tspan><tspan x="1613" y="7465">的人不应传假话。——尼癸狄乌斯</tspan></text></g>
<g id="R33"><rect class="nb" x="1567" y="7527" width="505" height="122" rx="61"/><text class="nt"><tspan x="1629" y="7564">8、一个人宁可能一百句谎言，也</tspan><tspan x="1629" y="7597">不想听一句他不愿听到的真话。—</tspan><tspan x="1629" y="7630">—塞·约翰逊</tspan></text></g>
<g id="R34"><rect class="nb" x="1567" y="7690" width="472" height="90" rx="45"/><text class="nt"><tspan x="1613" y="7728">10、给自己辩护的人，告发了他自</tspan><tspan x="1613" y="7760">己。——托尔斯泰</tspan></text></g>

<g id="watermarks" class="wm">
<text transform="translate(347,697) rotate(-29.5)">树图 shutu.cn</text>
<text transform="translate(1627,697) rotate(-29.5)">树图 shutu.cn</text>
<text transform="translate(347,1696) rotate(-29.5)">树图 shutu.cn</text>
<text transform="translate(1627,1696) rotate(-29.5)">树图 shutu.cn</text>
<text transform="translate(347,2695) rotate(-29.5)">树图 shutu.cn</text>
<text transform="translate(1627,2695) rotate(-29.5)">树图 shutu.cn</text>
<text transform="translate(347,3694) rotate(-29.5)">树图 shutu.cn</text>
<text transform="translate(1627,3694) rotate(-29.5)">树图 shutu.cn</text>
<text transform="translate(347,4693) rotate(-29.5)">树图 shutu.cn</text>
<text transform="translate(1627,4693) rotate(-29.5)">树图 shutu.cn</text>
<text transform="translate(347,5692) rotate(-29.5)">树图 shutu.cn</text>
<text transform="translate(1627,5692) rotate(-29.5)">树图 shutu.cn</text>
<text transform="translate(347,6691) rotate(-29.5)">树图 shutu.cn</text>
<text transform="translate(1627,6691) rotate(-29.5)">树图 shutu.cn</text>
<text transform="translate(347,7690) rotate(-29.5)">树图 shutu.cn</text>
<text transform="translate(1627,7690) rotate(-29.5)">树图 shutu.cn</text>
</g>
</g>
</svg>
